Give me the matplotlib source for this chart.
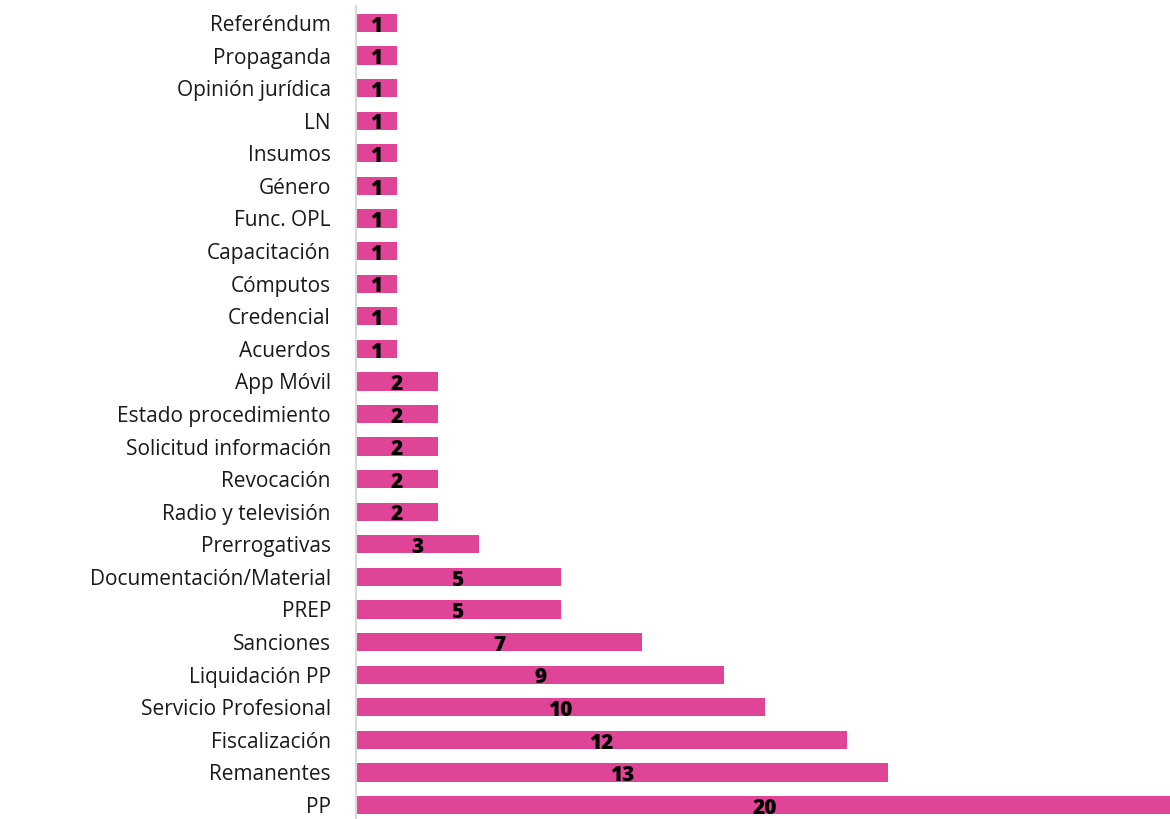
import matplotlib.pyplot as plt

# categories from bottom to top
temas = ["PP", "Remanentes", "Fiscalización", "Servicio Profesional", "Liquidación PP",
         "Sanciones", "PREP", "Documentación/Material", "Prerrogativas",
         "Radio y televisión", "Revocación", "Solicitud información",
         "Estado procedimiento", "App Móvil", "Acuerdos", "Credencial", "Cómputos",
         "Capacitación", "Func. OPL", "Género", "Insumos", "LN", "Opinión jurídica",
         "Propaganda", "Referéndum"]
casos = [20, 13, 12, 10, 9, 7, 5, 5, 3, 2, 2, 2, 2, 2, 1, 1, 1, 1, 1, 1, 1, 1, 1, 1, 1]

rosa = "#E04496"

fig = plt.figure(figsize=(11.7, 8.19), dpi=100)
ax = fig.add_axes([356 / 1170, 0, 1 - 356 / 1170, 813 / 819])

pos = list(range(len(temas)))
ax.barh(pos, casos, height=0.56, color=rosa)

# value labels, centred on each bar
for y, v in zip(pos, casos):
    ax.text(v / 2, y - 0.1, str(v), ha="center", va="center",
            fontsize=15, fontweight="heavy", color="black", family="Open Sans")

ax.set_xlim(0, 19.9)
ax.set_ylim(-0.43, 24.52)
ax.set_yticks(pos)
ax.set_yticklabels(temas, fontsize=15, family="Open Sans", color="#1a1a1a")
ax.tick_params(axis="y", length=0, pad=18)
ax.set_xticks([])

for s in ["top", "right", "bottom"]:
    ax.spines[s].set_visible(False)
ax.spines["left"].set_color("#D9D9D9")
ax.spines["left"].set_linewidth(1.5)

fig.savefig("out.png", dpi=100)
